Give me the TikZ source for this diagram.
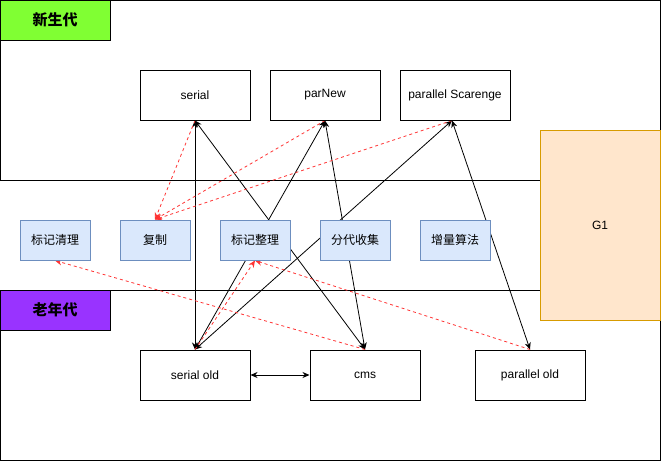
\documentclass[tikz,border=0pt]{standalone}
\usepackage{fontspec}
\setmainfont{Liberation Sans}
\newfontfamily\cjk{Noto Sans CJK SC}
\usetikzlibrary{arrows.meta}
\pgfdeclarelayer{back}
\pgfdeclarelayer{lines}
\pgfsetlayers{back,lines,main}
\definecolor{gfill}{HTML}{80FF33}
\definecolor{pfill}{HTML}{9933FF}
\definecolor{bfill}{HTML}{DAE8FC}
\definecolor{bline}{HTML}{6C8EBF}
\definecolor{ofill}{HTML}{FFE6CC}
\definecolor{oline}{HTML}{D79B00}
\definecolor{redl}{HTML}{FF3333}
\tikzset{
  gcbox/.style={draw=black, line width=1pt, fill=white, minimum width=110pt, minimum height=50pt, inner sep=0pt, font=\fontsize{12}{14}\selectfont},
  algbox/.style={draw=bline, line width=1pt, fill=bfill, minimum width=70pt, minimum height=40pt, inner sep=0pt, font=\cjk\fontsize{12}{14}\selectfont},
  genlabel/.style={draw=black, line width=1pt, minimum width=110pt, minimum height=40pt, inner sep=0pt, font=\cjk\bfseries\fontsize{15}{17}\selectfont},
  blk/.style={draw=black, line width=0.8pt, {Stealth[length=7pt,width=6pt]}-{Stealth[length=7pt,width=6pt]}},
  rdash/.style={draw=redl, line width=0.8pt, dash pattern=on 3pt off 3pt, -{Stealth[length=7pt,width=6pt]}},
}
\begin{document}
\begin{tikzpicture}[x=1pt,y=-1pt]
\useasboundingbox (0,0) rectangle (661,461);
\begin{pgfonlayer}{back}
\draw[line width=1pt] (0.5,0.5) rectangle (660,180);
\draw[line width=1pt] (0.5,290) rectangle (660,460);
\end{pgfonlayer}
\node[genlabel, fill=gfill] (young) at (55,20) {新生代};
\node[genlabel, fill=pfill] (old) at (55,310) {老年代};
\node[draw=oline, line width=1pt, fill=ofill, minimum width=120pt, minimum height=190pt, inner sep=0pt, font=\fontsize{12}{14}\selectfont] (g1) at (600,225) {G1};

\node[gcbox] (serial) at (195,95) {serial};
\node[gcbox] (parnew) at (325,95) {parNew};
\node[gcbox] (ps) at (455,95) {parallel Scarenge};

\node[algbox] (mc) at (55,240) {标记清理};
\node[algbox] (cp) at (155,240) {复制};
\node[algbox] (mz) at (255,240) {标记整理};
\node[algbox] (fd) at (355,240) {分代收集};
\node[algbox] (zl) at (455,240) {增量算法};

\node[gcbox] (sold) at (195,375) {serial old};
\node[gcbox] (cms) at (365,375) {cms};
\node[gcbox] (pold) at (530,375) {parallel old};

\begin{pgfonlayer}{lines}
\draw[blk] (serial.south) -- (sold.north);
\draw[blk] (serial.south) -- (cms.north);
\draw[blk] (parnew.south) -- (sold.north);
\draw[blk] (parnew.south) -- (cms.north);
\draw[blk] ([xshift=-3pt]ps.south) -- (sold.north);
\draw[blk] ([xshift=-3pt]ps.south) -- (pold.north);
\draw[blk] (sold.east) -- (cms.west);

\draw[rdash] (serial.south) -- (cp.north);
\draw[rdash] (parnew.south) -- (cp.north);
\draw[rdash] ([xshift=-3pt]ps.south) -- (cp.north);
\draw[rdash] (cms.north) -- (mc.south);
\draw[rdash] (sold.north) -- (mz.south);
\draw[rdash] (pold.north) -- (mz.south);
\end{pgfonlayer}
\end{tikzpicture}
\end{document}
